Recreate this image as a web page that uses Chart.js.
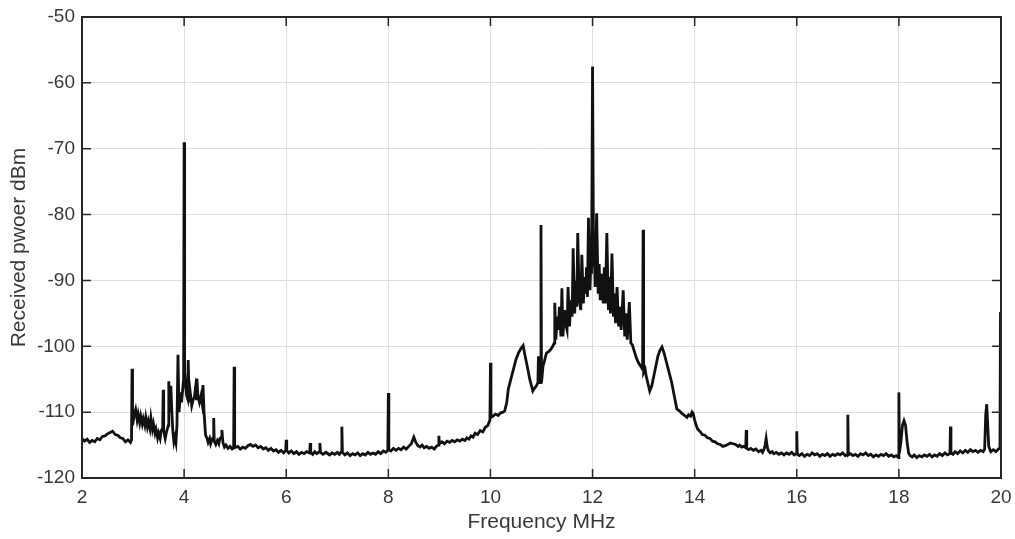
<!DOCTYPE html>
<html>
<head>
<meta charset="utf-8">
<script src="https://cdn.jsdelivr.net/npm/chart.js@4/dist/chart.umd.min.js"></script>
<style>
  html, body { margin: 0; padding: 0; background: #fff; }
  #wrap { width: 1015px; height: 539px; }
</style>
</head>
<body>
<div id="wrap"><canvas id="c" width="1015" height="539"></canvas></div>
<script>
// frequency in MHz
const freq = [
  2.00,2.05,2.10,2.15,2.20,2.25,2.30,2.35,2.40,2.45,2.50,2.55,2.60,2.65,2.70,2.75,2.80,2.85,2.90,2.95,2.97,2.98,2.99,
  3.02,3.05,3.08,3.10,3.13,3.15,3.18,3.20,3.23,3.25,3.28,3.30,3.33,3.35,3.38,3.40,3.43,3.45,3.48,3.50,3.53,3.55,3.58,3.59,3.60,
  3.63,3.65,3.69,3.70,3.72,3.74,3.76,3.78,3.80,3.82,3.84,3.86,3.88,3.90,3.93,3.95,3.99,4.00,4.01,
  4.03,4.05,4.07,4.08,4.10,4.12,4.15,4.18,4.20,4.22,4.24,4.25,4.27,4.30,4.33,4.35,4.37,4.39,4.42,
  4.45,4.47,4.50,4.52,4.55,4.57,4.58,4.59,4.62,4.65,4.68,4.70,4.73,4.74,4.76,4.79,4.82,4.86,4.90,4.94,4.97,4.98,4.99,
  5.05,5.10,5.15,5.20,5.25,5.30,5.35,5.40,5.45,5.50,5.55,5.60,5.65,5.70,5.75,5.80,5.85,5.90,5.95,5.99,6.00,6.01,
  6.05,6.10,6.15,6.20,6.25,6.30,6.35,6.40,6.46,6.47,6.48,6.52,6.56,6.60,6.65,6.66,6.67,6.72,6.78,6.85,6.90,6.95,7.00,7.04,7.08,7.09,7.10,
  7.15,7.20,7.25,7.30,7.35,7.40,7.45,7.50,7.55,7.60,7.65,7.70,7.75,7.80,7.85,7.90,7.95,7.99,8.00,8.01,
  8.05,8.10,8.15,8.20,8.25,8.30,8.35,8.40,8.45,8.50,8.54,8.58,8.62,8.66,8.70,8.75,8.80,8.85,8.90,8.94,8.98,8.99,9.00,
  9.05,9.10,9.15,9.20,9.25,9.30,9.35,9.40,9.45,9.50,9.54,9.58,9.62,9.66,9.70,9.75,9.80,9.85,9.90,9.95,9.99,10.00,10.01,
  10.05,10.10,10.15,10.20,10.25,10.28,10.32,10.35,10.40,10.45,10.50,10.55,10.60,10.64,10.68,10.72,10.77,10.83,10.87,10.90,10.93,10.94,10.95,10.98,10.99,11.00,
  11.03,11.05,11.08,11.10,11.14,11.18,11.22,11.25,11.26,11.28,11.31,11.33,11.35,11.38,11.40,11.42,11.45,11.47,11.50,11.52,11.55,
  11.57,11.60,11.62,11.65,11.67,11.69,11.71,11.74,11.77,11.79,11.82,11.84,11.87,11.88,11.90,11.92,
  11.95,11.97,11.98,12.00,12.02,12.03,12.05,12.08,12.11,12.13,12.15,12.18,12.21,12.23,12.25,12.28,12.31,12.33,12.35,
  12.38,12.41,12.43,12.45,12.48,12.51,12.53,12.56,12.60,12.63,12.65,12.68,12.72,12.75,12.78,12.82,12.86,12.90,12.94,12.98,
  12.99,13.00,13.03,13.05,13.08,13.12,13.16,13.20,13.24,13.28,13.32,13.36,13.40,13.45,13.50,13.55,13.60,13.65,13.70,13.75,13.80,13.85,13.88,13.92,13.95,13.97,14.00,
  14.03,14.06,14.10,14.15,14.20,14.25,14.30,14.35,14.40,14.45,14.50,14.55,14.60,14.65,14.70,14.75,14.80,14.85,14.88,14.92,14.96,15.00,15.01,15.02,
  15.06,15.10,15.15,15.20,15.25,15.30,15.33,15.36,15.38,15.40,15.42,15.44,15.48,15.52,15.55,15.60,15.65,15.70,15.75,15.80,15.85,15.90,15.95,15.99,16.00,16.01,
  16.05,16.10,16.15,16.20,16.25,16.30,16.35,16.40,16.45,16.50,16.55,16.60,16.65,16.70,16.75,16.80,16.85,16.90,16.95,16.99,17.00,17.01,
  17.05,17.10,17.15,17.20,17.25,17.30,17.35,17.40,17.45,17.50,17.55,17.60,17.65,17.70,17.75,17.80,17.85,17.90,17.95,17.99,18.00,18.01,18.04,18.07,18.10,18.13,18.16,18.19,18.22,
  18.26,18.30,18.35,18.40,18.45,18.50,18.55,18.60,18.65,18.70,18.75,18.80,18.85,18.90,18.95,19.00,19.01,19.02,
  19.06,19.10,19.15,19.20,19.25,19.30,19.35,19.40,19.45,19.50,19.55,19.60,19.65,19.68,19.70,19.72,19.74,19.76,19.80,19.85,19.90,19.95,19.98,19.99,20.00
];
// received power in dBm
const power = [
  -114.0,-114.4,-114.1,-114.6,-114.3,-114.5,-114.0,-114.2,-113.7,-113.6,-113.3,-113.1,-112.9,-113.4,-113.5,-113.9,-114.0,-114.5,-114.2,-114.6,-114.2,-103.4,-112.0,
  -110.5,-109.6,-111.2,-110.3,-111.6,-110.6,-111.8,-111.0,-112.0,-110.8,-112.2,-111.4,-112.5,-110.9,-112.6,-111.8,-113.2,-112.6,-113.9,-113.2,-114.0,-112.8,-112.5,-106.6,-112.8,
  -114.0,-113.2,-112.0,-105.3,-110.0,-106.0,-110.0,-113.0,-114.5,-113.8,-114.6,-112.0,-101.3,-110.0,-107.0,-108.5,-105.0,-69.0,-104.0,
  -106.0,-107.5,-108.0,-102.1,-108.5,-107.0,-109.0,-108.0,-107.8,-106.5,-108.0,-104.9,-107.5,-108.5,-107.5,-108.5,-105.9,-110.0,-113.5,
  -114.0,-114.6,-114.0,-114.8,-114.1,-114.2,-110.9,-114.4,-114.9,-114.3,-114.8,-114.0,-113.8,-112.7,-114.6,-115.3,-115.0,-115.5,-115.2,-115.6,-115.4,-103.1,-115.4,
  -115.2,-115.6,-115.3,-115.5,-115.1,-114.9,-115.2,-115.0,-115.4,-115.2,-115.6,-115.4,-115.8,-115.5,-115.9,-115.7,-116.1,-115.8,-116.2,-115.8,-114.2,-115.8,
  -116.2,-115.9,-116.3,-116.0,-116.4,-116.1,-116.3,-116.0,-116.2,-114.7,-116.1,-116.4,-116.0,-116.3,-116.0,-114.7,-116.1,-116.4,-116.1,-116.5,-116.2,-116.4,-116.1,-116.4,-116.0,-112.2,-116.1,
  -116.5,-116.2,-116.6,-116.3,-116.5,-116.2,-116.6,-116.3,-116.5,-116.1,-116.4,-116.2,-116.4,-116.0,-116.3,-115.9,-116.1,-115.8,-107.1,-115.7,
  -115.9,-115.5,-115.8,-115.5,-115.7,-115.3,-115.6,-115.2,-114.8,-113.8,-114.6,-115.1,-115.3,-115.0,-115.4,-115.2,-115.5,-115.3,-115.6,-115.2,-115.0,-113.6,-114.8,
  -114.5,-114.8,-114.4,-114.6,-114.3,-114.5,-114.2,-114.4,-114.1,-114.3,-113.9,-114.1,-113.6,-113.8,-113.2,-113.4,-112.8,-113.0,-112.3,-112.0,-111.2,-102.5,-110.8,
  -110.6,-110.3,-110.5,-110.1,-110.0,-109.8,-108.5,-106.5,-105.0,-103.5,-102.0,-101.0,-100.3,-99.9,-101.5,-103.0,-105.0,-106.8,-106.3,-106.0,-105.5,-101.5,-105.0,-105.5,-81.6,-105.5,
  -103.0,-102.5,-101.5,-101.0,-100.8,-100.5,-100.0,-99.5,-93.4,-99.0,-95.5,-97.5,-94.0,-98.5,-91.2,-98.5,-94.5,-96.5,-97.5,-91.0,-97.0,
  -93.0,-95.5,-85.1,-95.0,-90.0,-94.0,-82.8,-93.0,-94.5,-86.1,-93.5,-89.5,-92.0,-88.0,-92.5,-80.5,
  -91.5,-86.0,-89.0,-57.5,-88.0,-84.0,-91.0,-79.8,-92.0,-87.5,-93.0,-89.0,-93.5,-88.0,-93.5,-82.8,-94.5,-89.5,-95.0,
  -85.9,-95.5,-92.0,-96.5,-91.0,-97.0,-94.0,-97.5,-91.5,-98.5,-95.0,-99.0,-93.3,-99.5,-99.8,-100.8,-101.8,-102.5,-103.0,-103.5,
  -82.3,-104.0,-103.5,-104.5,-105.5,-106.8,-106.0,-104.5,-103.0,-101.5,-100.6,-100.1,-101.0,-102.5,-104.0,-105.5,-107.5,-109.5,-109.8,-110.2,-110.5,-110.8,-110.4,-110.6,-110.0,-110.2,-111.2,
  -112.0,-112.6,-112.9,-113.4,-113.5,-113.9,-114.0,-114.4,-114.5,-114.8,-114.9,-115.2,-115.1,-114.9,-114.7,-114.8,-114.9,-115.2,-115.0,-115.3,-115.2,-115.4,-112.7,-115.5,
  -115.7,-115.5,-115.8,-115.6,-116.0,-115.8,-116.1,-115.6,-115.0,-114.0,-115.2,-115.8,-116.2,-116.0,-116.3,-116.1,-116.4,-116.2,-116.5,-116.2,-116.4,-116.1,-116.5,-116.3,-112.9,-116.4,
  -116.6,-116.3,-116.7,-116.4,-116.6,-116.2,-116.5,-116.3,-116.7,-116.4,-116.6,-116.3,-116.7,-116.4,-116.6,-116.3,-116.5,-116.2,-116.6,-116.4,-110.4,-116.5,
  -116.3,-116.6,-116.4,-116.7,-116.3,-116.5,-116.2,-116.6,-116.4,-116.8,-116.5,-116.7,-116.4,-116.6,-116.3,-116.7,-116.5,-116.8,-116.6,-116.9,-107.0,-116.2,-114.5,-112.0,-111.3,-112.0,-114.5,-116.2,-116.6,
  -116.8,-116.5,-116.9,-116.6,-116.8,-116.5,-116.7,-116.4,-116.8,-116.5,-116.7,-116.3,-116.6,-116.2,-116.5,-116.3,-112.2,-116.2,
  -116.4,-116.0,-116.3,-115.9,-116.2,-115.8,-116.1,-115.7,-116.0,-115.8,-116.1,-115.8,-116.0,-115.6,-110.5,-108.8,-112.0,-115.2,-116.0,-115.7,-116.0,-115.6,-115.5,-94.8,-115.5
];

const xTicks = [2, 4, 6, 8, 10, 12, 14, 16, 18, 20];
const yTicks = [-120, -110, -100, -90, -80, -70, -60, -50];

if (freq.length !== power.length) console.error('length mismatch', freq.length, power.length);
const points = freq.map((f, i) => ({ x: f, y: power[i] }));

// MATLAB-like box with inward ticks on all four sides
const framePlugin = {
  id: 'frame',
  afterDatasetsDraw(chart) {
    const { ctx, chartArea: a, scales } = chart;
    ctx.save();
    ctx.strokeStyle = '#262626';
    ctx.lineWidth = 1.5;
    ctx.beginPath();
    xTicks.forEach(v => {
      const px = scales.x.getPixelForValue(v);
      ctx.moveTo(px, a.bottom); ctx.lineTo(px, a.bottom - 9);
      ctx.moveTo(px, a.top); ctx.lineTo(px, a.top + 9);
    });
    yTicks.forEach(v => {
      const py = scales.y.getPixelForValue(v);
      ctx.moveTo(a.left, py); ctx.lineTo(a.left + 9, py);
      ctx.moveTo(a.right, py); ctx.lineTo(a.right - 9, py);
    });
    ctx.stroke();
    ctx.lineWidth = 2;
    ctx.strokeRect(a.left, a.top, a.right - a.left, a.bottom - a.top);
    ctx.restore();
  }
};

const ctx = document.getElementById('c').getContext('2d');
const myChart = new Chart(ctx, {
  type: 'line',
  data: {
    datasets: [{
      label: 'Received power',
      data: points,
      borderColor: '#111111',
      borderWidth: 2.8,
      pointRadius: 0,
      tension: 0,
      fill: false
    }]
  },
  options: {
    responsive: false,
    animation: false,
    layout: { padding: { top: 17, right: 14, left: 0, bottom: 0 } },
    plugins: {
      legend: { display: false },
      tooltip: { enabled: false }
    },
    scales: {
      x: {
        type: 'linear',
        min: 2,
        max: 20,
        afterBuildTicks: (s) => { s.ticks = xTicks.map(v => ({ value: v })); },
        afterFit: (s) => { s.height = 61; s.paddingLeft = 0; s.paddingRight = 0; },
        grid: { color: '#dedede', lineWidth: 1, drawTicks: false },
        border: { display: false },
        ticks: {
          padding: 8,
          color: '#383838',
          font: { family: 'Liberation Sans', size: 19 }
        },
        title: {
          display: true,
          text: 'Frequency MHz',
          color: '#383838',
          padding: { top: 0, bottom: 4 },
          font: { family: 'Liberation Sans', size: 21 }
        }
      },
      y: {
        min: -120,
        max: -50,
        afterBuildTicks: (s) => { s.ticks = yTicks.map(v => ({ value: v })); },
        afterFit: (s) => { s.width = 82; s.paddingTop = 0; s.paddingBottom = 0; },
        grid: { color: '#dedede', lineWidth: 1, drawTicks: false },
        border: { display: false },
        ticks: {
          padding: 7,
          color: '#383838',
          font: { family: 'Liberation Sans', size: 19 }
        },
        title: {
          display: true,
          text: 'Received pwoer dBm',
          color: '#383838',
          padding: { top: 7, bottom: 0 },
          font: { family: 'Liberation Sans', size: 21 }
        }
      }
    }
  },
  plugins: [framePlugin]
});
</script>
</body>
</html>
